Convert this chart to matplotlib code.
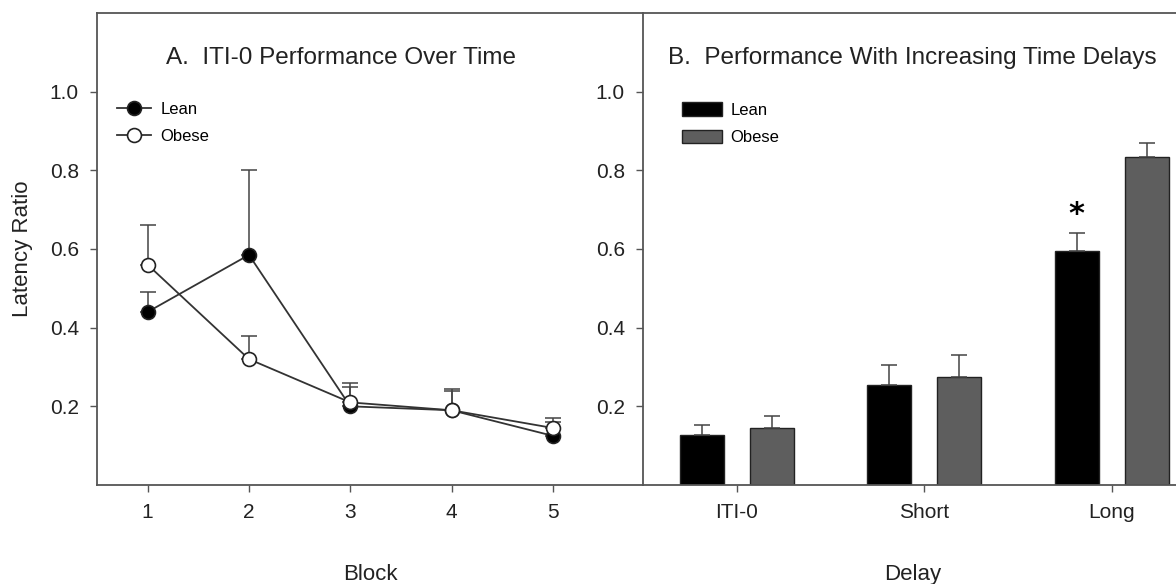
import numpy as np
import matplotlib
matplotlib.use("Agg")
import matplotlib.pyplot as plt

plt.rcParams['font.family'] = ['Liberation Sans Narrow', 'Liberation Sans', 'DejaVu Sans']

# panel A: latency ratio per block
blocks = [1, 2, 3, 4, 5]
lean_line = [0.44, 0.585, 0.20, 0.19, 0.125]
lean_line_err = [0.05, 0.215, 0.05, 0.05, 0.035]
obese_line = [0.56, 0.32, 0.21, 0.19, 0.145]
obese_line_err = [0.10, 0.06, 0.05, 0.055, 0.025]

# panel B: latency ratio per delay
delays = ['ITI-0', 'Short', 'Long']
lean_bar = [0.128, 0.255, 0.595]
lean_bar_err = [0.024, 0.05, 0.045]
obese_bar = [0.145, 0.275, 0.835]
obese_bar_err = [0.03, 0.055, 0.035]

spine_col = '#555555'
obese_col = '#5e5e5e'
text_col = '#222222'

fig = plt.figure(figsize=(11.76, 5.84), dpi=100)
ax1 = fig.add_axes([97 / 1176, 1 - 485 / 584, 546 / 1176, 472 / 584])
ax2 = fig.add_axes([643 / 1176, 1 - 485 / 584, 540 / 1176, 472 / 584])

for ax in (ax1, ax2):
    ax.set_ylim(0, 1.2)
    ax.set_yticks([0.2, 0.4, 0.6, 0.8, 1.0])
    ax.set_yticklabels(['0.2', '0.4', '0.6', '0.8', '1.0'])
    for s in ax.spines.values():
        s.set_color(spine_col)
        s.set_linewidth(1.3)
    ax.spines['right'].set_visible(False)
    ax.tick_params(direction='out', length=5, width=1.0, color=spine_col,
                   labelsize=15, labelcolor=text_col, pad=8)

# ---- panel A
ax1.set_xlim(0.5, 5.89)
ax1.set_xticks(blocks)
ax1.errorbar(blocks, lean_line, yerr=[np.zeros(5), lean_line_err], fmt='none',
             ecolor='#444444', elinewidth=1.1, capsize=6, capthick=1.1, zorder=2)
ax1.errorbar(blocks, obese_line, yerr=[np.zeros(5), obese_line_err], fmt='none',
             ecolor='#444444', elinewidth=1.1, capsize=6, capthick=1.1, zorder=2)
ax1.plot(blocks, lean_line, color='#333333', lw=1.3, marker='o', ms=10,
         mfc='black', mec='#222222', mew=1.2, label='Lean', zorder=3)
ax1.plot(blocks, obese_line, color='#333333', lw=1.3, marker='o', ms=10,
         mfc='white', mec='#222222', mew=1.2, label='Obese', zorder=4)
ax1.text(0.447, 0.905, 'A.  ITI-0 Performance Over Time', transform=ax1.transAxes,
         ha='center', va='center', fontsize=17.5, color=text_col)
ax1.set_ylabel('Latency Ratio', fontsize=16, color=text_col, labelpad=12,
               family=['Liberation Sans', 'DejaVu Sans'])
ax1.set_xlabel('Block', fontsize=16, color=text_col, labelpad=30)
ax1.legend(loc='upper left', bbox_to_anchor=(0.025, 0.825), frameon=False,
           fontsize=12, handlelength=2.0, handletextpad=0.6, labelspacing=0.7,
           borderaxespad=0)

# ---- panel B
x = np.arange(len(delays))
w = 0.235
off = 0.187
ax2.set_xlim(-0.5, 2.38)
ax2.set_xticks(x)
ax2.set_xticklabels(delays)
ax2.bar(x - off, lean_bar, w, color='black', edgecolor='#222222', lw=1.0,
        yerr=[np.zeros(3), lean_bar_err], capsize=6,
        error_kw=dict(ecolor='#444444', elinewidth=1.1, capthick=1.1), label='Lean')
ax2.bar(x + off, obese_bar, w, color=obese_col, edgecolor='#222222', lw=1.0,
        yerr=[np.zeros(3), obese_bar_err], capsize=6,
        error_kw=dict(ecolor='#444444', elinewidth=1.1, capthick=1.1), label='Obese')
ax2.text(x[2] - off, lean_bar[2] + lean_bar_err[2] + 0.012, '*', ha='center',
         va='bottom', fontsize=22, fontweight='bold', color='black',
         family='DejaVu Sans')
ax2.text(0.047, 0.905, 'B.  Performance With Increasing Time Delays',
         transform=ax2.transAxes, ha='left', va='center', fontsize=17.5, color=text_col)
ax2.set_xlabel('Delay', fontsize=16, color=text_col, labelpad=30)
ax2.legend(loc='upper left', bbox_to_anchor=(0.06, 0.825), frameon=False,
           fontsize=12, handlelength=2.4, handleheight=0.9, handletextpad=0.5,
           labelspacing=0.7, borderaxespad=0)

fig.savefig('out.png', dpi=100)
